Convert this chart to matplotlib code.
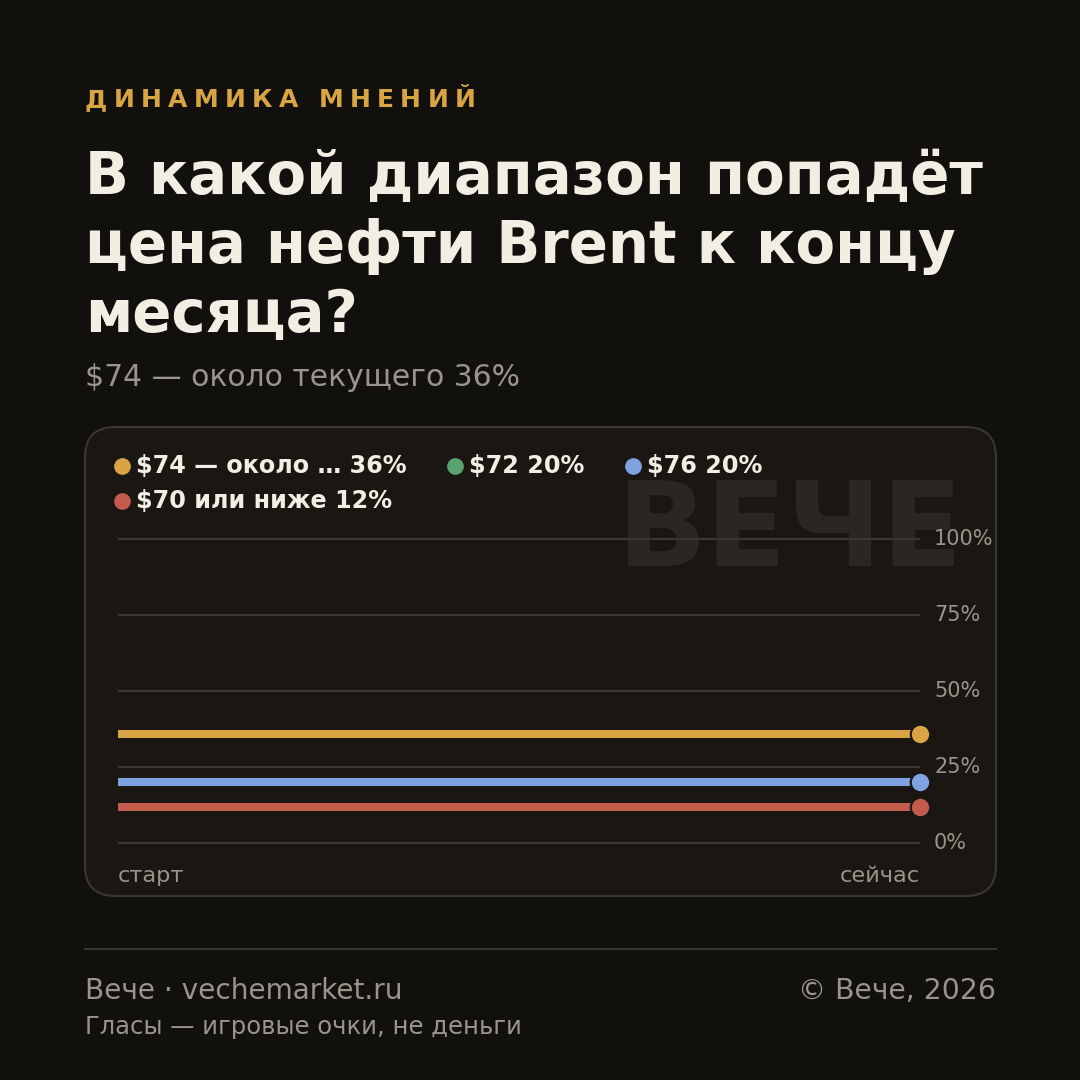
import matplotlib.pyplot as plt
from matplotlib.patches import FancyBboxPatch
from matplotlib.lines import Line2D

# data
labels = ["$74 — около … 36%", "$72 20%", "$76 20%", "$70 или ниже 12%"]
colors = ["#d9a443", "#5aa36e", "#7fa3e0", "#c45c4e"]
series = [[36, 36], [20, 20], [20, 20], [12, 12]]
x_pts = [0, 1]
x_labels = ["старт", "сейчас"]
y_ticks = [0, 25, 50, 75, 100]

BG = "#12100d"
CARD = "#1a1713"
EDGE = "#3a3630"
MUTED = "#9a958a"
LIGHT = "#f2eee3"

W = H = 1080
fig = plt.figure(figsize=(10.8, 10.8), dpi=100, facecolor=BG)
plt.rcParams['font.family'] = ['DejaVu Sans']


def fx(x):
    return x / W


def fy(y):
    return 1 - y / H


# card
card = FancyBboxPatch((fx(85), fy(896)), fx(996 - 85), (896 - 427) / H,
                      boxstyle="round,pad=0,rounding_size=0.028",
                      transform=fig.transFigure, facecolor=CARD, edgecolor=EDGE,
                      linewidth=1.5, zorder=-3)
fig.patches.append(card)

# watermark
fig.text(fx(963), fy(533), "ВЕЧЕ", ha="right", va="center", fontsize=85,
         fontweight="bold", color="#2a2722", zorder=-2)

# header with letter spacing
kicker = "ДИНАМИКА МНЕНИЙ"
r = fig.canvas.get_renderer()
xpos = 85
for ch in kicker:
    t = fig.text(fx(xpos), fy(100), ch, ha="left", va="center", fontsize=18,
                 fontweight="bold", color="#d9a443")
    w = t.get_window_extent(renderer=r).width if ch != " " else 8
    xpos += w + 6.3

for i, line in enumerate(["В какой диапазон попадёт", "цена нефти Brent к концу", "месяца?"]):
    fig.text(fx(85), fy(194 + 69 * i), line, ha="left", va="baseline",
             fontsize=41.6, fontweight="bold", color=LIGHT)

fig.text(fx(85), fy(377), "$74 — около текущего 36%", ha="left", va="center",
         fontsize=21.5, color=MUTED)

# legend
leg_items = [(122, 466), (455, 466), (633, 466), (122, 501)]
for (lx, ly), lab, c in zip(leg_items, labels, colors):
    fig.add_artist(Line2D([fx(lx)], [fy(ly)], marker="o", markersize=11,
                          color=c, transform=fig.transFigure))
    fig.text(fx(lx + 14), fy(ly), lab, ha="left", va="center", fontsize=17.2,
             fontweight="bold", color=LIGHT)

# plot area
top, bot = 530, 852
ax = fig.add_axes([fx(118), fy(bot), fx(920 - 118), (bot - top) / H])
ax.set_facecolor("none")
scale = (843 - 539) / 100
ax.set_ylim(-(bot - 843) / scale, 100 + (539 - top) / scale)
ax.set_xlim(0, 1)
for s in ax.spines.values():
    s.set_visible(False)
ax.set_xticks([])
ax.set_yticks([])
for v in y_ticks:
    ax.axhline(v, color=EDGE, linewidth=1.5, zorder=1)
    ax.text(1.0175, v, f"{v}%", transform=ax.get_yaxis_transform(),
            ha="left", va="center", fontsize=15, color=MUTED)

for vals, c in zip(series, colors):
    ax.plot(x_pts, vals, color=c, linewidth=5.8, solid_capstyle="butt", zorder=3)
    ax.plot(x_pts[-1], vals[-1], marker="o", markersize=14, color=c,
            markeredgecolor=CARD, markeredgewidth=1.5, zorder=4, clip_on=False)

fig.text(fx(118), fy(876), x_labels[0], ha="left", va="center", fontsize=16.2, color=MUTED)
fig.text(fx(920), fy(876), x_labels[1], ha="right", va="center", fontsize=16.2, color=MUTED)

# footer
fig.add_artist(Line2D([fx(85), fx(996)], [fy(949), fy(949)], color=EDGE,
                      linewidth=1.5, transform=fig.transFigure))
fig.text(fx(85), fy(991), "Вече · vechemarket.ru", ha="left", va="center",
         fontsize=20.2, color=MUTED)
fig.text(fx(996), fy(991), "© Вече, 2026", ha="right", va="center",
         fontsize=20.3, color=MUTED)
fig.text(fx(85), fy(1027), "Гласы — игровые очки, не деньги", ha="left", va="center",
         fontsize=17.5, color=MUTED)

fig.savefig("out.png", dpi=100, facecolor=BG)
